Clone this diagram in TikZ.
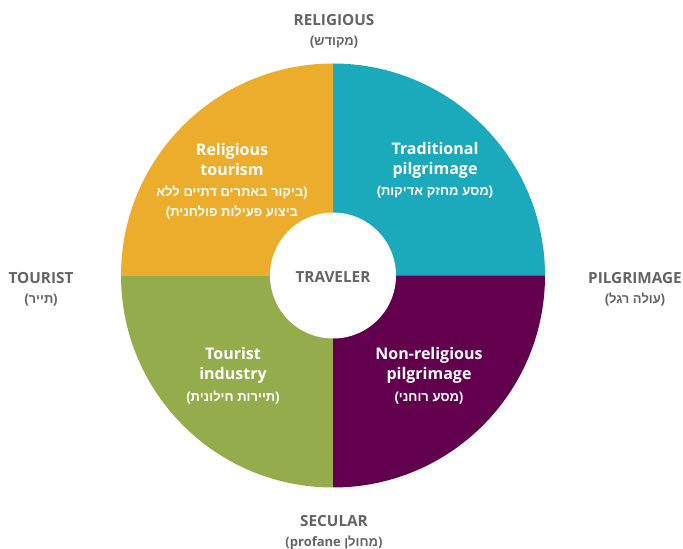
\documentclass[tikz,border=0pt]{standalone}
\usepackage{fontspec}
\setmainfont{Open Sans}
\newfontfamily\hebfont[Script=Hebrew]{Liberation Sans}
\TeXXeTstate=1
\usetikzlibrary{positioning}

\definecolor{relgold}{RGB}{236,173,45}
\definecolor{tradteal}{RGB}{27,170,188}
\definecolor{nonrelpurple}{RGB}{99,0,78}
\definecolor{tourgreen}{RGB}{148,172,76}
\definecolor{axisgrey}{RGB}{100,100,100}

\newcommand{\heb}[1]{{\hebfont\bfseries\fontsize{13}{18}\selectfont\beginR #1\endR}}

\begin{document}
\begin{tikzpicture}[x=1pt,y=1pt]
\tikzstyle{axislabel}=[align=center, text=axisgrey, font=\fontsize{15.3}{20}\selectfont\bfseries]

% Define the style for the labels inside the quarters
\tikzstyle{sectorlabel}=[align=center, text=white, font=\fontsize{16}{20}\selectfont\bfseries]

\useasboundingbox (0,0) rectangle (683,549);
\coordinate (centre) at (333,273.5);

% define the four quarters of the disc
\fill[tradteal] (centre) -- ++(0,212) arc[start angle=90, end angle=0, radius=212] -- cycle;
\fill[relgold] (centre) -- ++(0,212) arc[start angle=90, end angle=180, radius=212] -- cycle;
\fill[tourgreen] (centre) -- ++(-212,0) arc[start angle=180, end angle=270, radius=212] -- cycle;
\fill[nonrelpurple] (centre) -- ++(0,-212) arc[start angle=270, end angle=360, radius=212] -- cycle;

% define the nodes on the disc
\node (traveler) [circle, fill=white, minimum size=126pt, inner sep=0pt] at (centre) {};
\node [axislabel, yshift=-2pt] at (traveler) {TRAVELER};
\node (reltourism) [sectorlabel] at (232,367.5) {Religious\\tourism\\[1pt]\heb{(ביקור באתרים דתיים ללא}\\\heb{ביצוע פעילות פולחנית)}};
\node (tradpilgrim) [sectorlabel] at (435,378.5) {Traditional\\pilgrimage\\[1pt]\heb{(מסע מחזק אדיקות)}};
\node (tourindustry) [sectorlabel] at (233,173) {Tourist\\industry\\[2pt]\heb{(תיירות חילונית)}};
\node (nonrelpilgrim) [sectorlabel] at (429,173) {Non-religious\\pilgrimage\\[2pt]\heb{(מסע רוחני)}};

% define the nodes round the disc
\node (religious) [axislabel] at (334,518) {RELIGIOUS\\\heb{(מקודש)}};
\node (secular) [axislabel] at (334,16) {SECULAR\\{\fontsize{13}{18}\selectfont(profane {\hebfont מחולן})}};
\node (tourist) [axislabel] at (41,259.5) {TOURIST\\\heb{(תייר)}};
\node (pilgrimage) [axislabel] at (635,259.5) {PILGRIMAGE\\\heb{(עולה רגל)}};

\end{tikzpicture}
\end{document}
